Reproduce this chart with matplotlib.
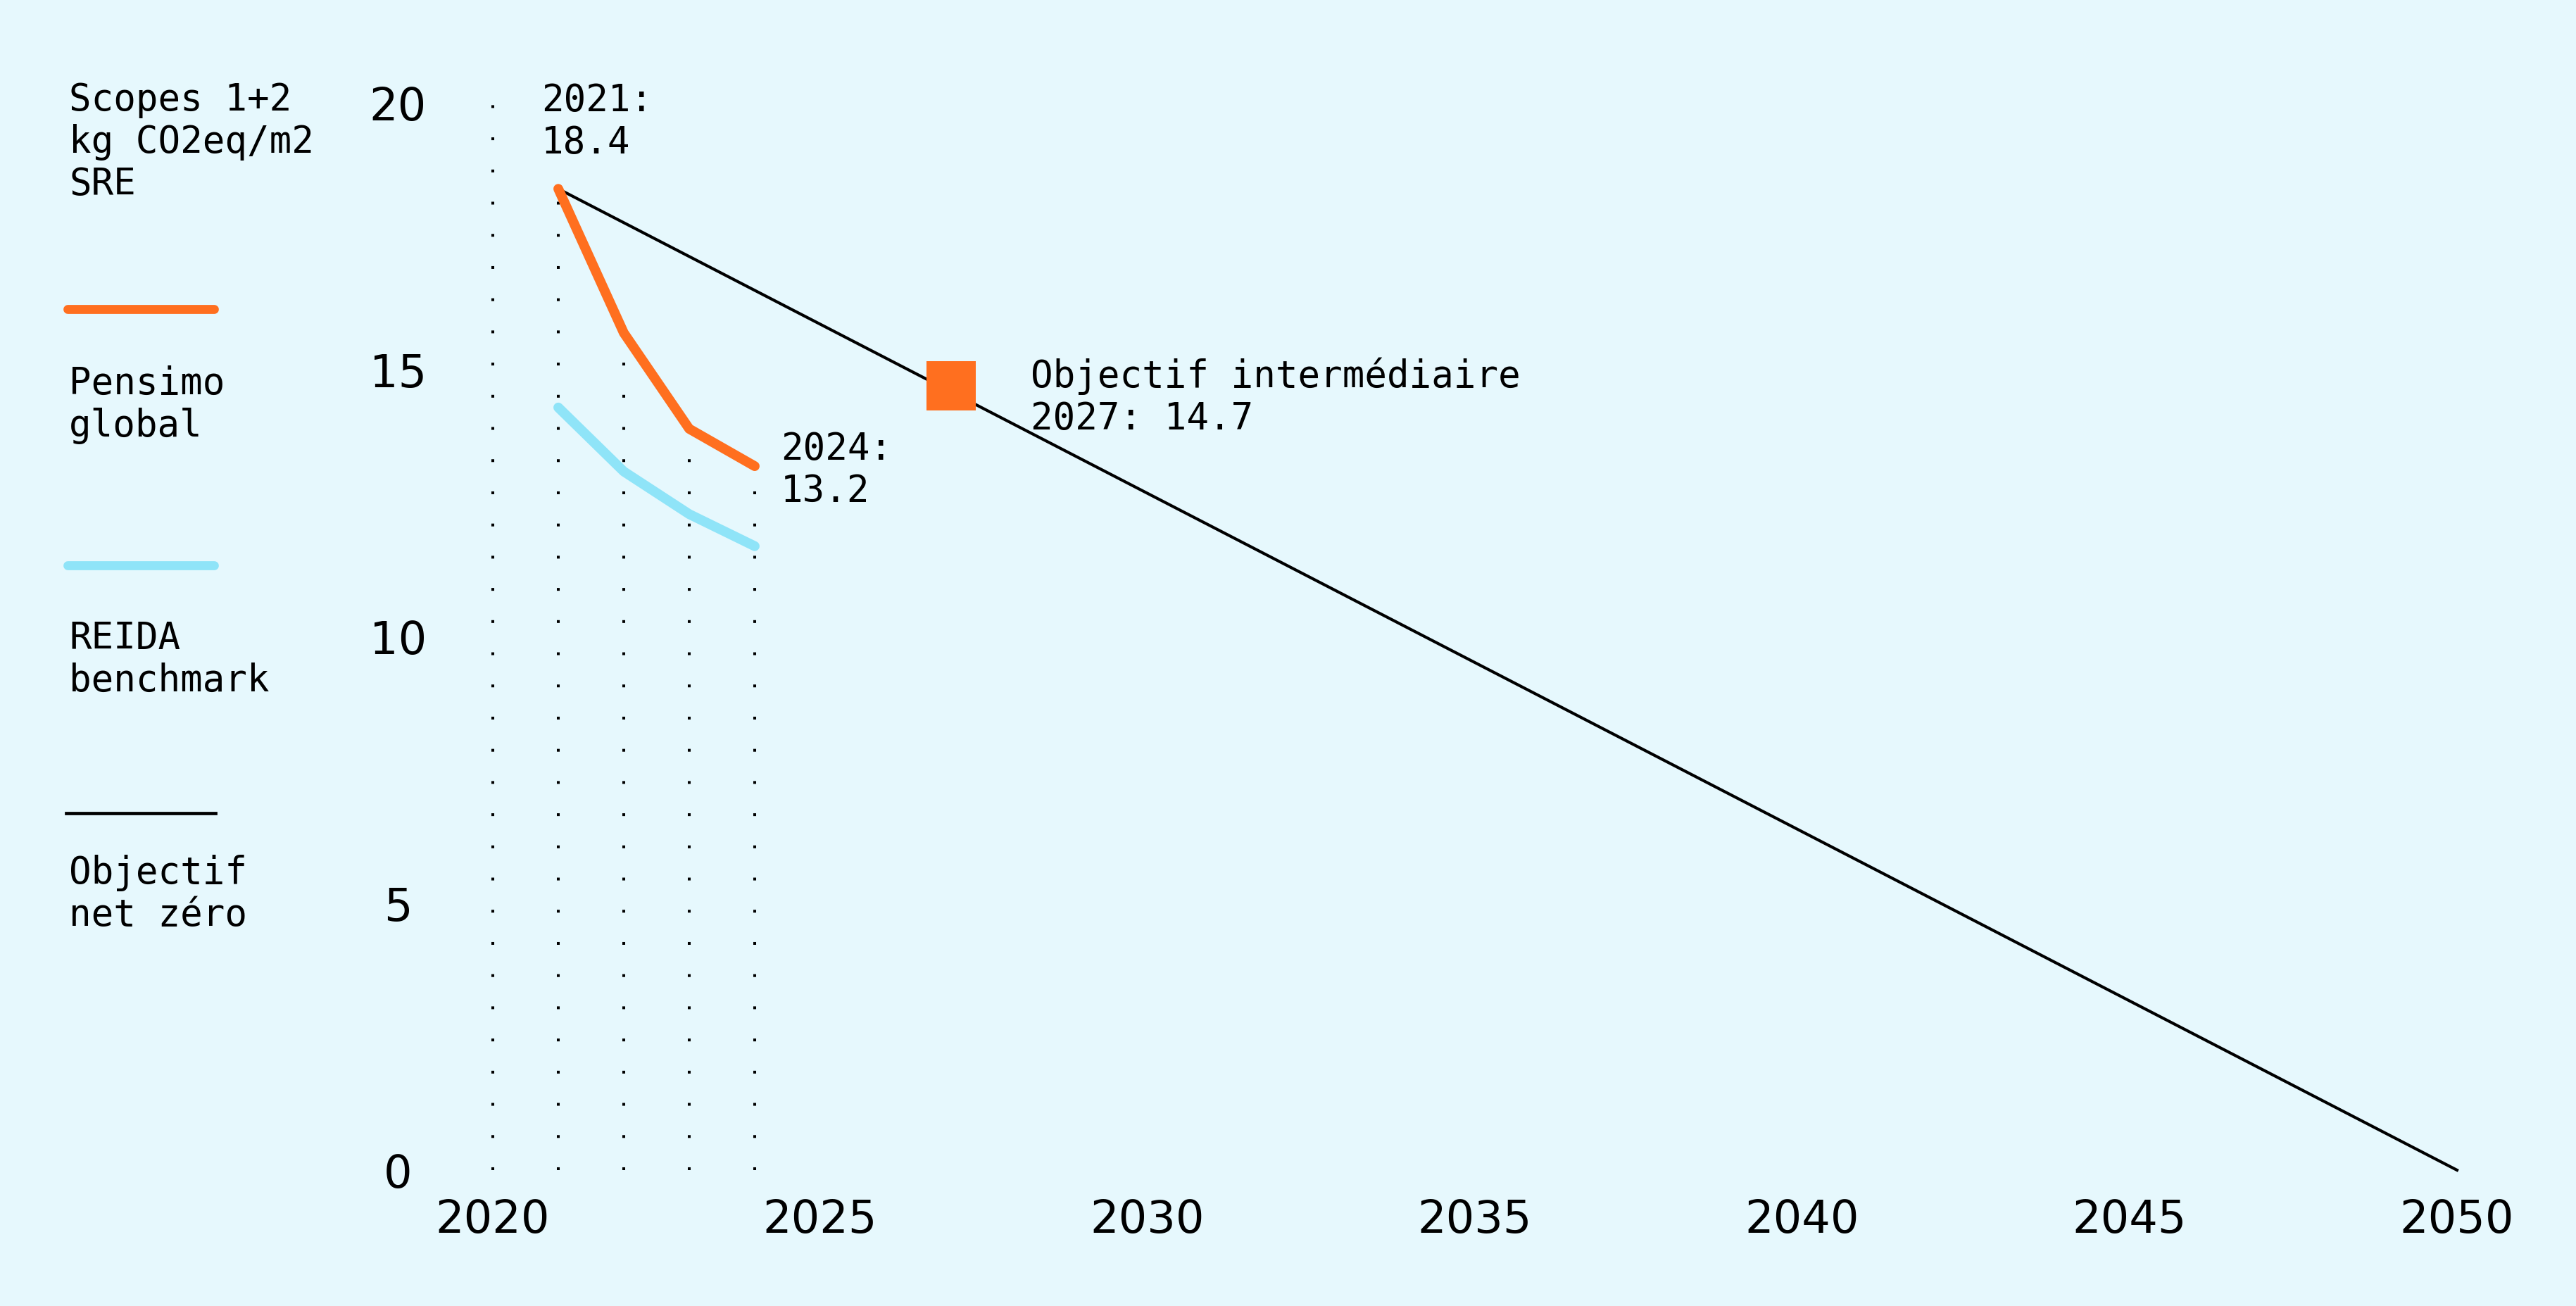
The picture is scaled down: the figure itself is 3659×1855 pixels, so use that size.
import matplotlib
matplotlib.use('Agg')
import matplotlib.pyplot as plt
from matplotlib.lines import Line2D

# ---- data ----
years = [2021, 2022, 2023, 2024]
pensimo = [18.4, 15.7, 13.9, 13.2]
reida = [14.3, 13.1, 12.3, 11.7]
target_years = [2021, 2050]
target_values = [18.4, 0.0]
interim_year = [2027]
interim_value = [14.7]
guide_years = [2020, 2021, 2022, 2023, 2024]
guide_tops = [20, 18.4, 15.7, 13.9, 13.2]
xticks = [2020, 2025, 2030, 2035, 2040, 2045, 2050]
yticks = [0, 5, 10, 15, 20]

ORANGE = '#FF6F1F'
BLUE = '#8FE4F8'
BG = '#E6F8FD'
MONO = 'DejaVu Sans Mono'
SANS = 'DejaVu Sans'
MONO_SIZE = 37.8
TICK_SIZE = 46

W, H = 3659, 1855
fig = plt.figure(figsize=(W / 100, H / 100), dpi=100, facecolor=BG)


def fx(px):
    return px / W


def fy(py):
    return 1 - py / H


ax = fig.add_axes([fx(700), fy(1662), fx(3490) - fx(700), fy(147) - fy(1662)])
ax.set_facecolor(BG)
ax.patch.set_alpha(0)
ax.set_xlim(2020, 2050)
ax.set_ylim(0, 20)
for s in ax.spines.values():
    s.set_visible(False)

# dotted guides
for gx, gt in zip(guide_years, guide_tops):
    ax.plot([gx, gx], [0, gt], color='black', lw=2.9, linestyle=(0, (1, 10.35)),
            dash_capstyle='butt', clip_on=False, zorder=1)

# target line
ax.plot(target_years, target_values, color='black', lw=3.0, clip_on=False, zorder=2)
# series
ax.plot(years, reida, color=BLUE, lw=10, solid_capstyle='round', solid_joinstyle='round',
        clip_on=False, zorder=3)
ax.plot(years, pensimo, color=ORANGE, lw=10, solid_capstyle='round', solid_joinstyle='round',
        clip_on=False, zorder=4)
# interim marker
ax.plot(interim_year, interim_value, marker='s', ms=50.4, mew=0, color=ORANGE,
        linestyle='none', clip_on=False, zorder=5)

# ticks
ax.set_xticks(xticks)
ax.set_xticklabels([str(v) for v in xticks])
ax.set_yticks(yticks)
ax.set_yticklabels([str(v) for v in yticks])
ax.tick_params(axis='both', length=0, labelsize=TICK_SIZE)
ax.tick_params(axis='x', pad=29)
ax.tick_params(axis='y', pad=97)
for lab in ax.get_xticklabels() + ax.get_yticklabels():
    lab.set_fontfamily(SANS)
for lab in ax.get_yticklabels():
    lab.set_horizontalalignment('center')

# annotations
ax.annotate('2021:\n18.4', xy=(years[0], pensimo[0]), xytext=(-24, 95),
            textcoords='offset pixels', ha='left', va='center',
            fontsize=MONO_SIZE, family=MONO)
ax.annotate('2024:\n13.2', xy=(years[-1], pensimo[-1]), xytext=(37, -6),
            textcoords='offset pixels', ha='left', va='center',
            fontsize=MONO_SIZE, family=MONO)
ax.annotate('Objectif intermédiaire\n2027: 14.7', xy=(interim_year[0], interim_value[0]),
            xytext=(113, -16), textcoords='offset pixels', ha='left', va='center',
            fontsize=MONO_SIZE, family=MONO)

# legend-like left column
fig.text(fx(98), fy(202), 'Scopes 1+2\nkg CO2eq/m2\nSRE', ha='left', va='center',
         fontsize=MONO_SIZE, family=MONO)
fig.add_artist(Line2D([fx(96), fx(304)], [fy(439), fy(439)], color=ORANGE, lw=9.2,
                      solid_capstyle='round', transform=fig.transFigure))
fig.text(fx(98), fy(575), 'Pensimo\nglobal', ha='left', va='center',
         fontsize=MONO_SIZE, family=MONO)
fig.add_artist(Line2D([fx(96), fx(304)], [fy(803), fy(803)], color=BLUE, lw=9.2,
                      solid_capstyle='round', transform=fig.transFigure))
fig.text(fx(98), fy(937), 'REIDA\nbenchmark', ha='left', va='center',
         fontsize=MONO_SIZE, family=MONO)
fig.add_artist(Line2D([fx(94), fx(306)], [fy(1155), fy(1155)], color='black', lw=3.4,
                      transform=fig.transFigure))
fig.text(fx(98), fy(1270), 'Objectif\nnet zéro', ha='left', va='center',
         fontsize=MONO_SIZE, family=MONO)

fig.savefig('out.png', dpi=100, facecolor=BG)
